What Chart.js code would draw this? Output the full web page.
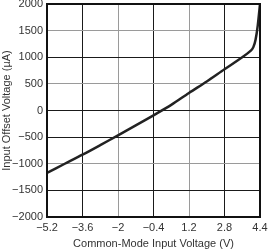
<!DOCTYPE html>
<html><head><meta charset="utf-8">
<script src="https://cdn.jsdelivr.net/npm/chart.js@4/dist/chart.umd.min.js"></script>
<style>html,body{margin:0;padding:0;background:#fff}#wrap{width:268px;height:251px;position:relative}</style>
</head><body><div id="wrap"><canvas id="c" width="268" height="251"></canvas></div>
<script>
const cmVoltage = [-5.2,-4.4,-3.6,-2.8,-2.0,-1.2,-0.4,0.4,1.2,2.0,2.8,3.6,4.0,4.1,4.2,4.3,4.4];
const offsetVoltage = [-1170,-1000,-830,-650,-466,-280,-90,105,330,545,775,1000,1130,1190,1330,1600,2000];
const xTicks = [-5.2,-3.6,-2,-0.4,1.2,2.8,4.4];
const yTicks = [-2000,-1500,-1000,-500,0,500,1000,1500,2000];
const xTitle = 'Common-Mode Input Voltage (V)';
const yTitle = 'Input Offset Voltage (µA)';

const DARK = '#1a1a1a', GRAY = '#9a9a9a';
const xGridColors = {'-3.6':DARK,'-2':GRAY,'-0.4':DARK,'1.2':GRAY,'2.8':DARK};
const yGridColors = {'1500':GRAY,'1000':DARK,'500':GRAY,'0':DARK,'-500':DARK,'-1000':GRAY,'-1500':DARK};
const fmt = v => String(v).replace('-', '\u2212');

const frame = {
  id:'frame',
  afterDraw(chart){
    const {ctx, chartArea:a} = chart;
    ctx.save();
    ctx.strokeStyle = '#111';
    ctx.lineWidth = 2;
    ctx.strokeRect(a.left, a.top, a.right - a.left, a.bottom - a.top);
    ctx.restore();
  }
};

new Chart(document.getElementById('c'), {
  type:'scatter',
  data:{datasets:[{
    data: cmVoltage.map((x,i)=>({x, y: offsetVoltage[i]})),
    showLine:true, borderColor:'#222', borderWidth:2.5, pointRadius:0, tension:0.3, fill:false
  }]},
  options:{
    responsive:false, animation:false, events:[],
    layout:{padding:0},
    plugins:{legend:{display:false}, tooltip:{enabled:false}},
    scales:{
      x:{
        type:'linear', min:-5.2, max:4.4,
        afterBuildTicks(s){ s.ticks = xTicks.map(v=>({value:v})); },
        afterFit(s){ s.height = 34; s.paddingRight = 8; s.paddingLeft = 0; },
        grid:{drawTicks:false, lineWidth:1,
          color:c => xGridColors[String(c.tick && c.tick.value)] || 'rgba(0,0,0,0)'},
        border:{display:false},
        ticks:{color:'#333', font:{family:'Liberation Sans, Arial', size:11}, padding:4, maxRotation:0,
          callback:v=>fmt(v)},
        title:{display:true, text:xTitle, color:'#333', font:{family:'Liberation Sans, Arial', size:11}, padding:{top:2,bottom:0}}
      },
      y:{
        min:-2000, max:2000,
        afterBuildTicks(s){ s.ticks = yTicks.map(v=>({value:v})); },
        afterFit(s){ s.width = 47; s.paddingTop = 4; s.paddingBottom = 0; },
        grid:{drawTicks:false, lineWidth:1,
          color:c => yGridColors[String(c.tick && c.tick.value)] || 'rgba(0,0,0,0)'},
        border:{display:false},
        ticks:{color:'#333', font:{family:'Liberation Sans, Arial', size:11}, padding:4,
          callback:v=>fmt(v)},
        title:{display:true, text:yTitle, color:'#333', font:{family:'Liberation Sans, Arial', size:11}, padding:{top:0,bottom:0}}
      }
    }
  },
  plugins:[frame]
});
</script></body></html>
